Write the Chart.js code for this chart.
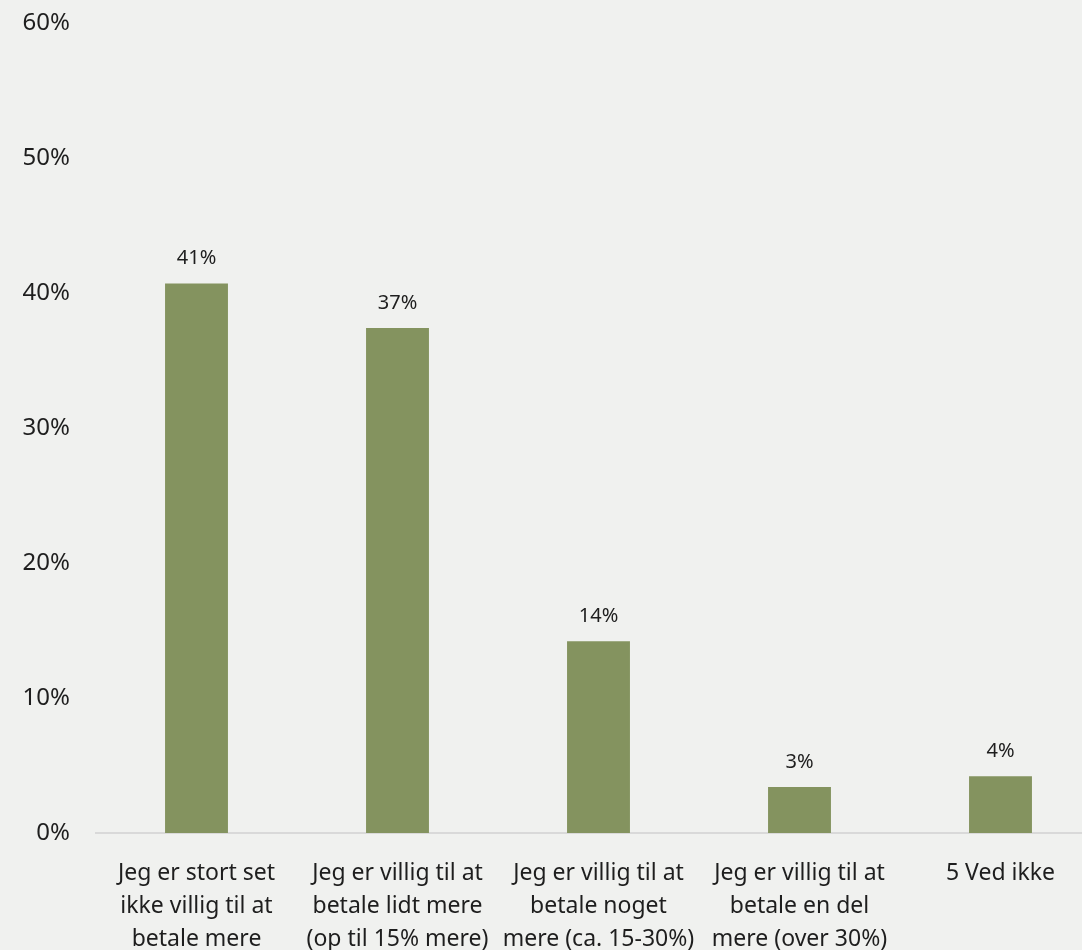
<!DOCTYPE html>
<html>
<head>
<meta charset="utf-8">
<script src="https://cdn.jsdelivr.net/npm/chart.js@4"></script>
<style>
  html, body { margin: 0; padding: 0; background: #F0F1EF; overflow: hidden; }
  #wrap { position: relative; width: 1101px; height: 950px; }
</style>
</head>
<body>
<div id="wrap"><canvas id="c"></canvas></div>
<script>
const categories = [
  ["Jeg er stort set", "ikke villig til at", "betale mere"],
  ["Jeg er villig til at", "betale lidt mere", "(op til 15% mere)"],
  ["Jeg er villig til at", "betale noget", "mere (ca. 15-30%)"],
  ["Jeg er villig til at", "betale en del", "mere (over 30%)"],
  ["5 Ved ikke"]
];
const values = [40.7, 37.4, 14.2, 3.4, 4.2];
const valueLabels = ["41%", "37%", "14%", "3%", "4%"];
const yTicks = [0, 10, 20, 30, 40, 50, 60];

const FONT = "'Noto Sans', 'Open Sans', sans-serif";
const TEXT = "#1E1E1E";

const dataLabelPlugin = {
  id: 'dataLabels',
  afterDatasetsDraw(chart) {
    const ctx = chart.ctx;
    const meta = chart.getDatasetMeta(0);
    ctx.save();
    ctx.font = "20px " + FONT;
    ctx.fillStyle = TEXT;
    ctx.textAlign = 'center';
    ctx.textBaseline = 'middle';
    meta.data.forEach((bar, i) => {
      ctx.fillText(valueLabels[i], bar.x, bar.y - 25);
    });
    ctx.restore();
  }
};

new Chart(document.getElementById('c'), {
  type: 'bar',
  data: {
    labels: categories,
    datasets: [{
      data: values,
      backgroundColor: '#84935F',
      borderWidth: 0,
      categoryPercentage: 1.0,
      barPercentage: 0.313
    }]
  },
  options: {
    responsive: true,
    maintainAspectRatio: false,
    animation: false,
    layout: { padding: { top: 23, left: 0, right: 0, bottom: 0 } },
    plugins: { legend: { display: false }, tooltip: { enabled: false } },
    scales: {
      x: {
        grid: { display: false, drawTicks: false },
        border: { display: true, color: '#D9D9D9', width: 2 },
        ticks: {
          color: TEXT,
          font: { family: FONT, size: 23, lineHeight: 1.435 },
          padding: 24,
          maxRotation: 0,
          autoSkip: false
        },
        afterFit(s) { s.height = 117; s.paddingLeft = 0; s.paddingRight = 0; }
      },
      y: {
        min: 0,
        max: 60,
        afterBuildTicks(s) { s.ticks = yTicks.map(v => ({ value: v })); },
        grid: { display: false, drawTicks: false },
        border: { display: false },
        ticks: {
          color: TEXT,
          font: { family: FONT, size: 24 },
          padding: 26,
          callback: v => v + '%'
        },
        afterFit(s) { s.width = 96; s.paddingTop = 0; s.paddingBottom = 0; }
      }
    }
  },
  plugins: [dataLabelPlugin]
});
</script>
</body>
</html>
